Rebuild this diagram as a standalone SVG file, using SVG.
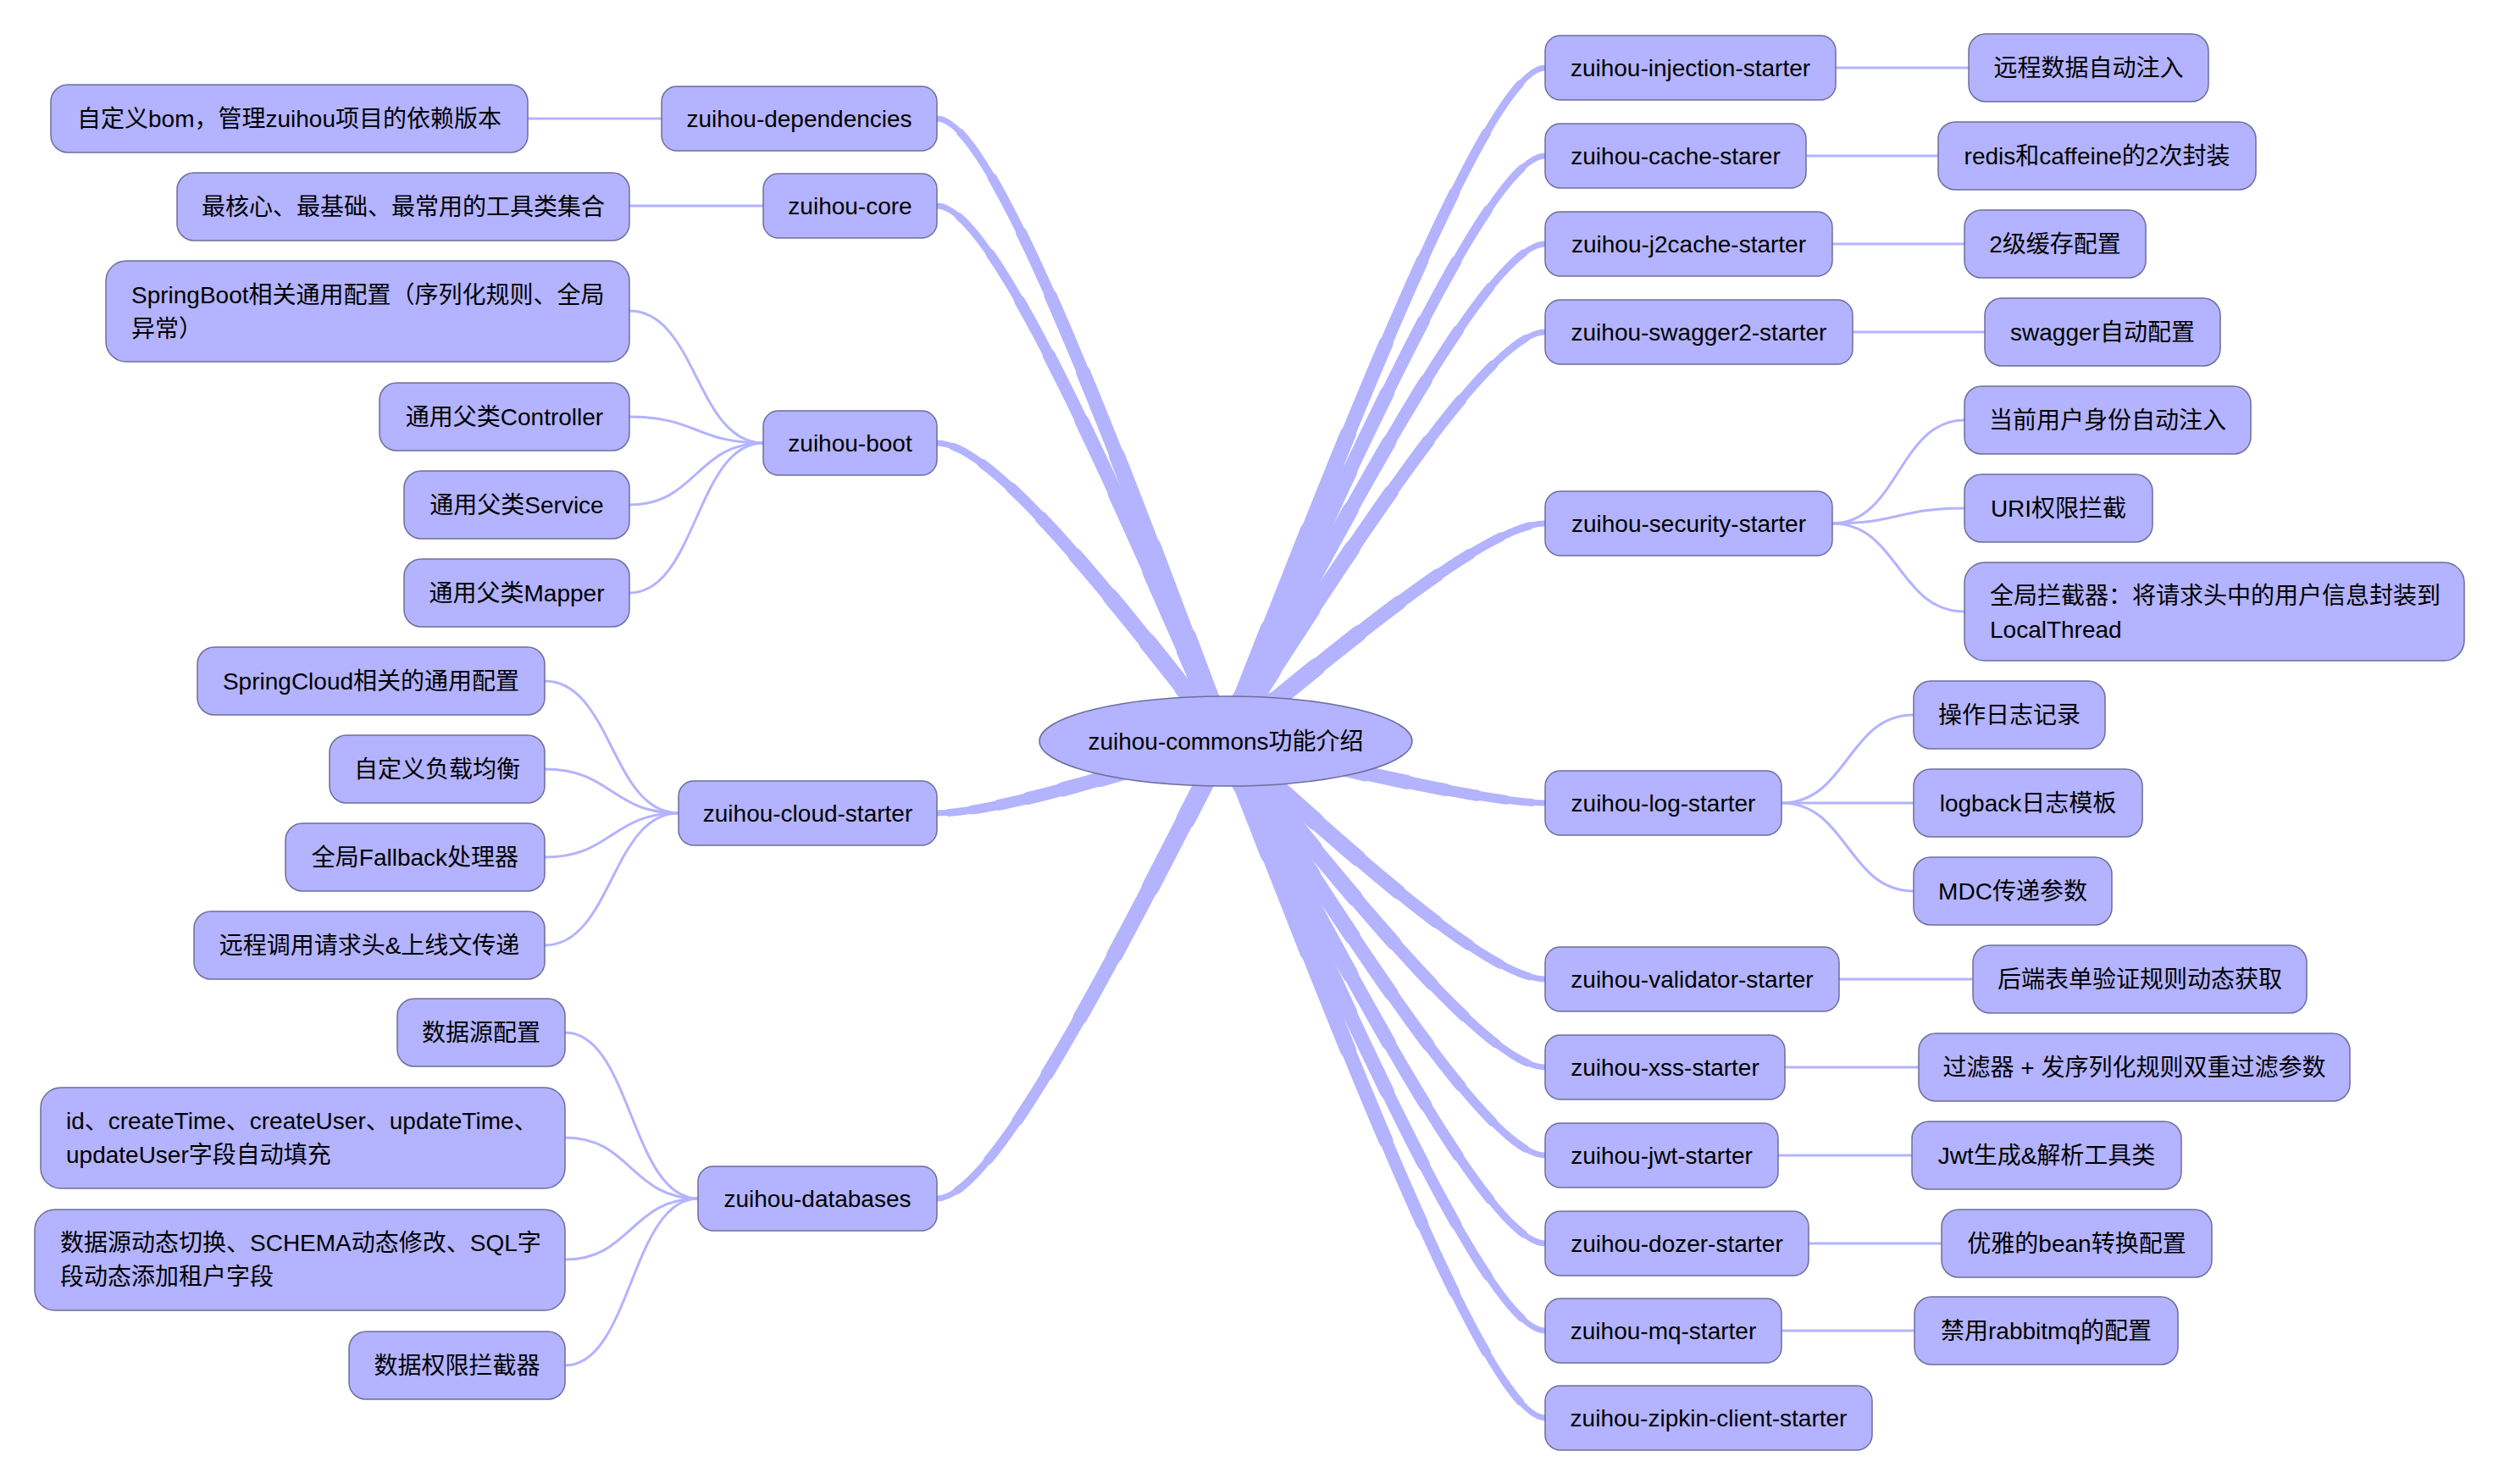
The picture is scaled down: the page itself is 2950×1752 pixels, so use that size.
<svg xmlns="http://www.w3.org/2000/svg" width="2950" height="1752" viewBox="0 0 2950 1752">
<style>
.n rect{fill:#b3b3ff;stroke:#6e6e9c;stroke-width:1.5}
.n ellipse{fill:#b3b3ff;stroke:#6e6e9c;stroke-width:1.5}
text{font-family:"Liberation Sans","Noto Sans CJK SC",sans-serif;font-size:28px;fill:#000}
.m{text-anchor:middle}
.c{fill:none;stroke:#b3b3ff;stroke-linecap:round}
.t0{stroke-width:7}
.t1{stroke-width:9;stroke-dasharray:96 200}
.t2{stroke-width:11;stroke-dasharray:88 200}
.t3{stroke-width:13;stroke-dasharray:79 200}
.t4{stroke-width:15;stroke-dasharray:69 200}
.t5{stroke-width:17;stroke-dasharray:57 200}
.t6{stroke-width:19;stroke-dasharray:44 200}
.t7{stroke-width:21;stroke-dasharray:30 200}
.t8{stroke-width:23;stroke-dasharray:16 200}
.t9{stroke-width:25;stroke-dasharray:6 200}
.thin{stroke-width:3;stroke-linecap:butt}
</style>
<defs>
<path id="p1" pathLength="100" d="M1447 875 C1603 477.5 1759 80 1824 80"/>
<path id="p2" pathLength="100" d="M1447 875 C1603 529.5 1759 184 1824 184"/>
<path id="p3" pathLength="100" d="M1447 875 C1603 581.5 1759 288 1824 288"/>
<path id="p4" pathLength="100" d="M1447 875 C1603 633.5 1759 392 1824 392"/>
<path id="p5" pathLength="100" d="M1447 875 C1603 746.5 1759 618 1824 618"/>
<path id="p6" pathLength="100" d="M1447 875 C1603 911.5 1759 948 1824 948"/>
<path id="p7" pathLength="100" d="M1447 875 C1603 1015.5 1759 1156 1824 1156"/>
<path id="p8" pathLength="100" d="M1447 875 C1603 1067.5 1759 1260 1824 1260"/>
<path id="p9" pathLength="100" d="M1447 875 C1603 1119.5 1759 1364 1824 1364"/>
<path id="p10" pathLength="100" d="M1447 875 C1603 1171.5 1759 1468 1824 1468"/>
<path id="p11" pathLength="100" d="M1447 875 C1603 1223 1759 1571 1824 1571"/>
<path id="p12" pathLength="100" d="M1447 875 C1603 1274.5 1759 1674 1824 1674"/>
<path id="p13" pathLength="100" d="M1447 875 C1309 507.5 1171 140 1106 140"/>
<path id="p14" pathLength="100" d="M1447 875 C1309 559 1171 243 1106 243"/>
<path id="p15" pathLength="100" d="M1447 875 C1309 699 1171 523 1106 523"/>
<path id="p16" pathLength="100" d="M1447 875 C1309 917.5 1171 960 1106 960"/>
<path id="p17" pathLength="100" d="M1447 875 C1309 1145 1171 1415 1106 1415"/>
<g id="all">
<use href="#p1"/><use href="#p2"/><use href="#p3"/><use href="#p4"/><use href="#p5"/><use href="#p6"/><use href="#p7"/><use href="#p8"/><use href="#p9"/><use href="#p10"/><use href="#p11"/><use href="#p12"/><use href="#p13"/><use href="#p14"/><use href="#p15"/><use href="#p16"/><use href="#p17"/>
</g>
</defs>
<rect width="2950" height="1752" fill="#ffffff"/>
<g id="connectors">
<use href="#all" class="c t0"/>
<use href="#all" class="c t1"/>
<use href="#all" class="c t2"/>
<use href="#all" class="c t3"/>
<use href="#all" class="c t4"/>
<use href="#all" class="c t5"/>
<use href="#all" class="c t6"/>
<use href="#all" class="c t7"/>
<use href="#all" class="c t8"/>
<use href="#all" class="c t9"/>
<g class="c thin">
<path d="M781 140 H623"/>
<path d="M901 243 H743"/>
<path d="M901 523 C822 523 822 367 743 367"/>
<path d="M901 523 C822 523 822 492 743 492"/>
<path d="M901 523 C822 523 822 596 743 596"/>
<path d="M901 523 C822 523 822 700 743 700"/>
<path d="M801 960 C722 960 722 804 643 804"/>
<path d="M801 960 C722 960 722 908 643 908"/>
<path d="M801 960 C722 960 722 1012 643 1012"/>
<path d="M801 960 C722 960 722 1116 643 1116"/>
<path d="M824 1415 C745 1415 745 1219 667 1219"/>
<path d="M824 1415 C745 1415 745 1343 667 1343"/>
<path d="M824 1415 C745 1415 745 1487 667 1487"/>
<path d="M824 1415 C745 1415 745 1612 667 1612"/>
<path d="M2167 80 H2324"/>
<path d="M2132 184 H2288"/>
<path d="M2163 288 H2319"/>
<path d="M2187 392 H2343"/>
<path d="M2163 618 C2241 618 2241 496 2319 496"/>
<path d="M2163 618 C2241 618 2241 600 2319 600"/>
<path d="M2163 618 C2241 618 2241 722 2319 722"/>
<path d="M2103 948 C2181 948 2181 844 2259 844"/>
<path d="M2103 948 H2259"/>
<path d="M2103 948 C2181 948 2181 1052 2259 1052"/>
<path d="M2171 1156 H2329"/>
<path d="M2107 1260 H2265"/>
<path d="M2099 1364 H2257"/>
<path d="M2135 1468 H2292"/>
<path d="M2103 1571 H2260"/>
</g>
</g>
<g id="root" class="n"><ellipse cx="1447" cy="875" rx="220" ry="53"/><text class="m" x="1447" y="885">zuihou-commons功能介绍</text></g>
<g id="dependencies" class="n"><rect x="781" y="102" width="325" height="76" rx="18"/><text class="m" x="943.5" y="150">zuihou-dependencies</text></g>
<g id="core" class="n"><rect x="901" y="205" width="205" height="76" rx="18"/><text class="m" x="1003.5" y="253">zuihou-core</text></g>
<g id="boot" class="n"><rect x="901" y="485" width="205" height="76" rx="18"/><text class="m" x="1003.5" y="533">zuihou-boot</text></g>
<g id="cloud" class="n"><rect x="801" y="922" width="305" height="76" rx="18"/><text class="m" x="953.5" y="970">zuihou-cloud-starter</text></g>
<g id="databases" class="n"><rect x="824" y="1377" width="282" height="76" rx="18"/><text class="m" x="965" y="1425">zuihou-databases</text></g>
<g id="bom" class="n"><rect x="60" y="100" width="563" height="80" rx="20"/><text class="m" x="341.5" y="150">自定义bom，管理zuihou项目的依赖版本</text></g>
<g id="coreutil" class="n"><rect x="209" y="204" width="534" height="80" rx="20"/><text class="m" x="476" y="254">最核心、最基础、最常用的工具类集合</text></g>
<g id="springboot" class="n"><rect x="125" y="308" width="618" height="119" rx="24"/><text x="155" y="358">SpringBoot相关通用配置（序列化规则、全局</text><text x="155" y="398">异常）</text></g>
<g id="controller" class="n"><rect x="448" y="452" width="295" height="80" rx="20"/><text class="m" x="595.5" y="502">通用父类Controller</text></g>
<g id="service" class="n"><rect x="477" y="556" width="266" height="80" rx="20"/><text class="m" x="610" y="606">通用父类Service</text></g>
<g id="mapper" class="n"><rect x="477" y="660" width="266" height="80" rx="20"/><text class="m" x="610" y="710">通用父类Mapper</text></g>
<g id="springcloud" class="n"><rect x="233" y="764" width="410" height="80" rx="20"/><text class="m" x="438" y="814">SpringCloud相关的通用配置</text></g>
<g id="lb" class="n"><rect x="389" y="868" width="254" height="80" rx="20"/><text class="m" x="516" y="918">自定义负载均衡</text></g>
<g id="fallback" class="n"><rect x="337" y="972" width="306" height="80" rx="20"/><text class="m" x="490" y="1022">全局Fallback处理器</text></g>
<g id="header" class="n"><rect x="229" y="1076" width="414" height="80" rx="20"/><text class="m" x="436" y="1126">远程调用请求头&amp;上线文传递</text></g>
<g id="ds" class="n"><rect x="469" y="1179" width="198" height="80" rx="20"/><text class="m" x="568" y="1229">数据源配置</text></g>
<g id="fill" class="n"><rect x="48" y="1284" width="619" height="119" rx="24"/><text x="78" y="1333">id、createTime、createUser、updateTime、</text><text x="78" y="1373">updateUser字段自动填充</text></g>
<g id="dynamic" class="n"><rect x="41" y="1428" width="626" height="119" rx="24"/><text x="71" y="1477">数据源动态切换、SCHEMA动态修改、SQL字</text><text x="71" y="1517">段动态添加租户字段</text></g>
<g id="dataperm" class="n"><rect x="412" y="1572" width="255" height="80" rx="20"/><text class="m" x="539.5" y="1622">数据权限拦截器</text></g>
<g id="injection" class="n"><rect x="1824" y="42" width="343" height="76" rx="18"/><text class="m" x="1995.5" y="90">zuihou-injection-starter</text></g>
<g id="cache" class="n"><rect x="1824" y="146" width="308" height="76" rx="18"/><text class="m" x="1978" y="194">zuihou-cache-starer</text></g>
<g id="j2cache" class="n"><rect x="1824" y="250" width="339" height="76" rx="18"/><text class="m" x="1993.5" y="298">zuihou-j2cache-starter</text></g>
<g id="swagger2" class="n"><rect x="1824" y="354" width="363" height="76" rx="18"/><text class="m" x="2005.5" y="402">zuihou-swagger2-starter</text></g>
<g id="security" class="n"><rect x="1824" y="580" width="339" height="76" rx="18"/><text class="m" x="1993.5" y="628">zuihou-security-starter</text></g>
<g id="log" class="n"><rect x="1824" y="910" width="279" height="76" rx="18"/><text class="m" x="1963.5" y="958">zuihou-log-starter</text></g>
<g id="validator" class="n"><rect x="1824" y="1118" width="347" height="76" rx="18"/><text class="m" x="1997.5" y="1166">zuihou-validator-starter</text></g>
<g id="xss" class="n"><rect x="1824" y="1222" width="283" height="76" rx="18"/><text class="m" x="1965.5" y="1270">zuihou-xss-starter</text></g>
<g id="jwt" class="n"><rect x="1824" y="1326" width="275" height="76" rx="18"/><text class="m" x="1961.5" y="1374">zuihou-jwt-starter</text></g>
<g id="dozer" class="n"><rect x="1824" y="1430" width="311" height="76" rx="18"/><text class="m" x="1979.5" y="1478">zuihou-dozer-starter</text></g>
<g id="mq" class="n"><rect x="1824" y="1533" width="279" height="76" rx="18"/><text class="m" x="1963.5" y="1581">zuihou-mq-starter</text></g>
<g id="zipkin" class="n"><rect x="1824" y="1636" width="386" height="76" rx="18"/><text class="m" x="2017" y="1684">zuihou-zipkin-client-starter</text></g>
<g id="remote" class="n"><rect x="2324" y="40" width="283" height="80" rx="20"/><text class="m" x="2465.5" y="90">远程数据自动注入</text></g>
<g id="redis" class="n"><rect x="2288" y="144" width="375" height="80" rx="20"/><text class="m" x="2475.5" y="194">redis和caffeine的2次封装</text></g>
<g id="l2cache" class="n"><rect x="2319" y="248" width="214" height="80" rx="20"/><text class="m" x="2426" y="298">2级缓存配置</text></g>
<g id="swaggerauto" class="n"><rect x="2343" y="352" width="278" height="80" rx="20"/><text class="m" x="2482" y="402">swagger自动配置</text></g>
<g id="curuser" class="n"><rect x="2319" y="456" width="338" height="80" rx="20"/><text class="m" x="2488" y="506">当前用户身份自动注入</text></g>
<g id="uri" class="n"><rect x="2319" y="560" width="222" height="80" rx="20"/><text class="m" x="2430" y="610">URI权限拦截</text></g>
<g id="globalint" class="n"><rect x="2319" y="664" width="590" height="116" rx="24"/><text x="2349" y="713">全局拦截器：将请求头中的用户信息封装到</text><text x="2349" y="753">LocalThread</text></g>
<g id="oplog" class="n"><rect x="2259" y="804" width="226" height="80" rx="20"/><text class="m" x="2372" y="854">操作日志记录</text></g>
<g id="logback" class="n"><rect x="2259" y="908" width="270" height="80" rx="20"/><text class="m" x="2394" y="958">logback日志模板</text></g>
<g id="mdc" class="n"><rect x="2259" y="1012" width="234" height="80" rx="20"/><text class="m" x="2376" y="1062">MDC传递参数</text></g>
<g id="formrule" class="n"><rect x="2329" y="1116" width="394" height="80" rx="20"/><text class="m" x="2526" y="1166">后端表单验证规则动态获取</text></g>
<g id="filter" class="n"><rect x="2265" y="1220" width="509" height="80" rx="20"/><text class="m" x="2519.5" y="1270">过滤器 + 发序列化规则双重过滤参数</text></g>
<g id="jwtutil" class="n"><rect x="2257" y="1324" width="318" height="80" rx="20"/><text class="m" x="2416" y="1374">Jwt生成&amp;解析工具类</text></g>
<g id="bean" class="n"><rect x="2292" y="1428" width="319" height="80" rx="20"/><text class="m" x="2451.5" y="1478">优雅的bean转换配置</text></g>
<g id="rabbit" class="n"><rect x="2260" y="1531" width="311" height="80" rx="20"/><text class="m" x="2415.5" y="1581">禁用rabbitmq的配置</text></g>
</svg>
